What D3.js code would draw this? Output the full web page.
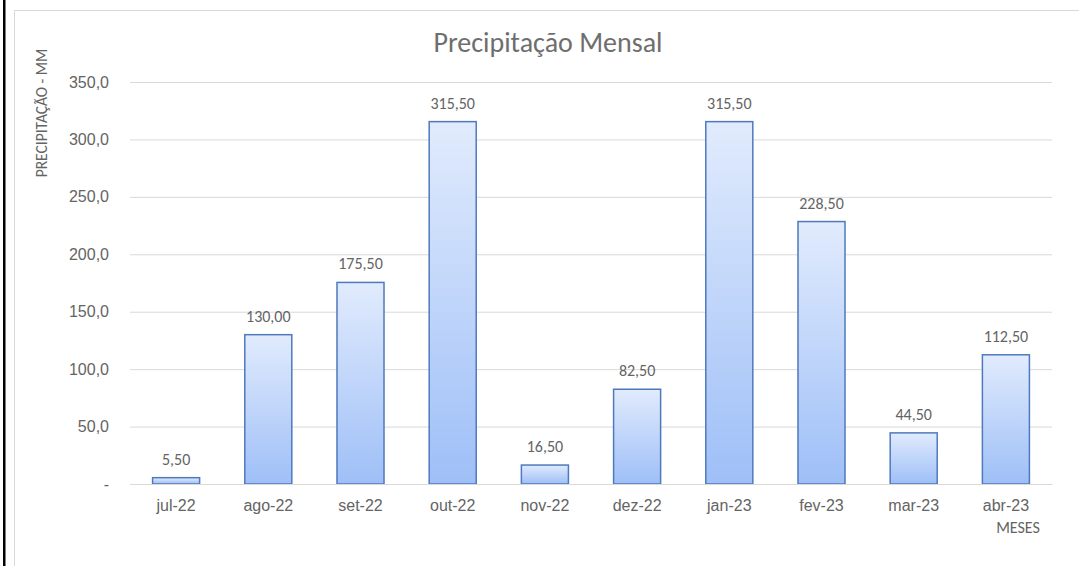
<!DOCTYPE html>
<html>
<head>
<meta charset="utf-8">
<script src="https://cdn.jsdelivr.net/npm/d3@7"></script>
<style>
  body { margin: 0; background: #fff; }
  svg { font-family: Calibri, Carlito, "Open Sans", sans-serif; }
  .tick text { fill: #646464; font-size: 16px; }
</style>
</head>
<body>
<svg width="1079" height="566"></svg>
<script>
// dados
var meses = ["jul-22", "ago-22", "set-22", "out-22", "nov-22", "dez-22", "jan-23", "fev-23", "mar-23", "abr-23"];
var precipitacao = [5.5, 130, 175.5, 315.5, 16.5, 82.5, 315.5, 228.5, 44.5, 112.5];
var yTicks = [0, 50, 100, 150, 200, 250, 300, 350];

var svg = d3.select("svg");
var W = 1079, H = 566;

// moldura
svg.append("rect").attr("x", 3).attr("y", 0).attr("width", 2.5).attr("height", H).attr("fill", "#000");
svg.append("rect").attr("x", 14.5).attr("y", 10.5).attr("width", W).attr("height", H)
  .attr("fill", "none").attr("stroke", "#d9d9d9").attr("stroke-width", 1);

var x = d3.scaleBand().domain(meses).range([130, 1052]).paddingInner(0.49).paddingOuter(0.245);
var y = d3.scaleLinear().domain([0, 350]).range([484, 82]);

var defs = svg.append("defs");
var grad = defs.append("linearGradient").attr("id", "barra").attr("x1", 0).attr("y1", 0).attr("x2", 0).attr("y2", 1);
grad.append("stop").attr("offset", "0%").attr("stop-color", "#e1ebfd");
grad.append("stop").attr("offset", "100%").attr("stop-color", "#9ebff7");

// grade
var fmt = function(d) { return d === 0 ? "-" : d3.format(".1f")(d).replace(".", ","); };
var gy = svg.append("g").attr("transform", "translate(130,0)")
  .call(d3.axisLeft(y).tickValues(yTicks).tickFormat(fmt).tickSize(0));
gy.select(".domain").remove();
gy.selectAll(".tick line").clone().attr("x2", 922).attr("stroke", "#d9d9d9").attr("stroke-width", 1);
gy.selectAll(".tick text").attr("dy", "0.32em").attr("x", -21);

// barras
svg.selectAll("rect.bar").data(precipitacao).enter().append("rect")
  .attr("class", "bar")
  .attr("x", (d, i) => x(meses[i]))
  .attr("y", d => y(d))
  .attr("width", x.bandwidth())
  .attr("height", d => y(0) - y(d))
  .attr("fill", "url(#barra)")
  .attr("stroke", "#4f79bd")
  .attr("stroke-width", 1.5);

// rótulos de valor
svg.selectAll("text.val").data(precipitacao).enter().append("text")
  .attr("class", "val")
  .attr("x", (d, i) => x(meses[i]) + x.bandwidth() / 2)
  .attr("y", d => y(d) - 13)
  .attr("text-anchor", "middle")
  .attr("fill", "#646464")
  .attr("font-size", 16)
  .text(d => d3.format(".2f")(d).replace(".", ","));

// eixo x
var gx = svg.append("g").attr("transform", "translate(0,484)")
  .call(d3.axisBottom(x).tickSize(0).tickPadding(16));
gx.select(".domain").attr("stroke", "#d9d9d9");

// títulos
svg.append("text").attr("x", 548).attr("y", 52).attr("text-anchor", "middle")
  .attr("fill", "#6e6e6e").attr("font-size", 28).text("Precipitação Mensal");
svg.append("text").attr("transform", "translate(47,113) rotate(-90)").attr("text-anchor", "middle")
  .attr("fill", "#646464").attr("font-size", 15.5).text("PRECIPITAÇÃO - MM");
svg.append("text").attr("x", 1018).attr("y", 533).attr("text-anchor", "middle")
  .attr("fill", "#646464").attr("font-size", 16).text("MESES");
</script>
</body>
</html>
